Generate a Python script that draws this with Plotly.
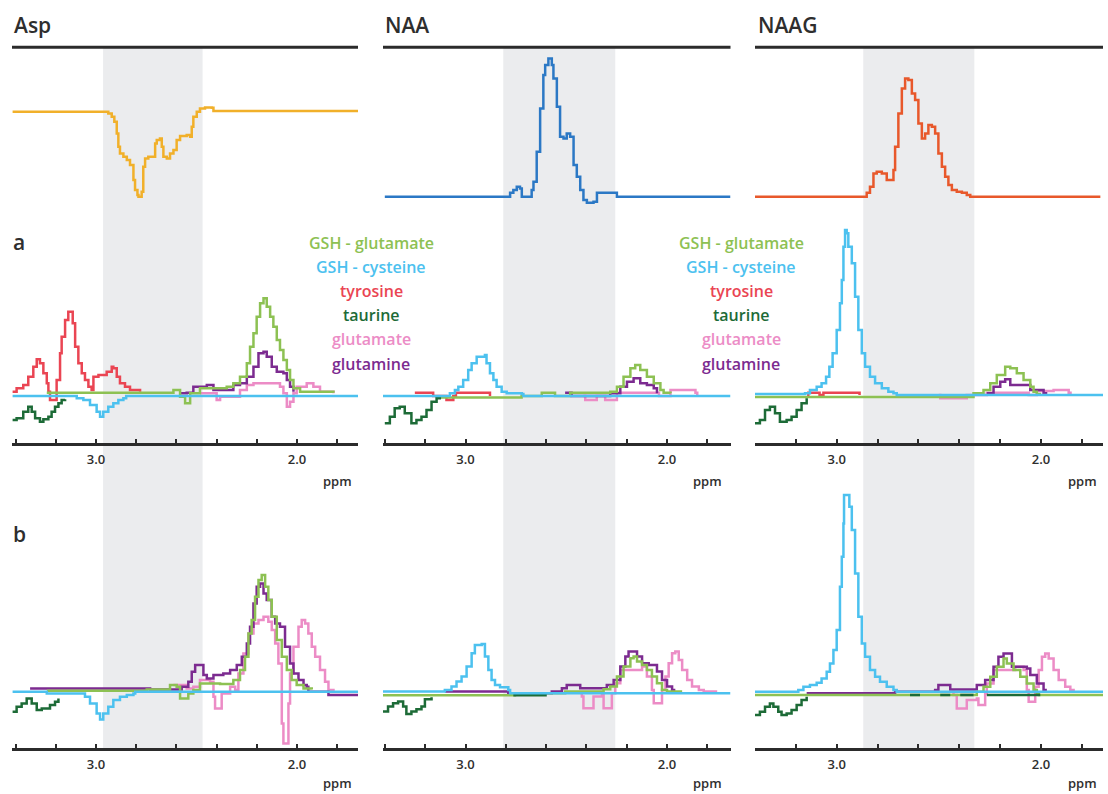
import plotly.graph_objects as go

# ---------------- data (ppm, intensity in px above baseline) ----------------
metabolites = ["Asp", "NAA", "NAAG"]
series_names = ["GSH - glutamate", "GSH - cysteine", "tyrosine", "taurine", "glutamate", "glutamine"]
tick_vals = [3.4, 3.2, 3.0, 2.8, 2.6, 2.4, 2.2, 2.0, 1.8]
tick_text = ["", "", "3.0", "", "", "", "", "2.0", ""]
shade_ranges = [(2.965, 2.47), (2.813, 2.257), (2.870, 2.326)]

# top row
asp_ppm = [3.415, 2.947, 2.939, 2.922, 2.909, 2.897, 2.889, 2.881, 2.864, 2.847, 2.831, 2.814, 2.806, 2.794, 2.789,
           2.773, 2.765, 2.756, 2.740, 2.715, 2.706, 2.698, 2.682, 2.673, 2.665, 2.648, 2.632, 2.615, 2.599, 2.582,
           2.549, 2.532, 2.524, 2.516, 2.499, 2.483, 2.458, 2.424, 2.416, 1.687]
asp_int = [0, 0, -1.7, -5, -10, -21.7, -35, -41.7, -45, -48.3, -53.3, -68.3, -78.3, -83.3, -85,
           -80, -55, -46.7, -45, -45, -31.7, -28.3, -26.7, -35, -45, -46.7, -41.7, -38.3, -28.3, -24.3,
           -23.3, -25, -15, -5, 0, 3.3, 4.3, 4, 0.7, 0]
naa_ppm = [3.401, 2.796, 2.779, 2.763, 2.746, 2.730, 2.721, 2.688, 2.672, 2.663, 2.647, 2.630, 2.614, 2.605, 2.589,
           2.572, 2.564, 2.547, 2.531, 2.514, 2.498, 2.481, 2.464, 2.448, 2.431, 2.415, 2.398, 2.365, 2.348, 2.257,
           2.249, 1.685]
naa_int = [0, 0, 4, 6.7, 10, 8.3, 0, 0, 6.7, 15, 45, 88.3, 121.7, 131.7, 138.3,
           131.7, 118.3, 90, 60, 58.3, 63.3, 60, 31.7, 20, 6.7, -3.3, -6, -5, 4, 4,
           0, 0]
naag_ppm = [3.400, 2.869, 2.853, 2.837, 2.820, 2.804, 2.779, 2.755, 2.730, 2.722, 2.714, 2.698, 2.681, 2.665, 2.649,
            2.632, 2.616, 2.600, 2.583, 2.567, 2.551, 2.534, 2.518, 2.502, 2.485, 2.469, 2.453, 2.436, 2.412, 2.387,
            2.363, 2.346, 1.709]
naag_int = [0, 0, 4, 10, 23.3, 25, 23.3, 16.7, 16.7, 26.7, 50, 83.3, 108.3, 118.3, 116.7,
            103.3, 96.7, 73.3, 58.3, 63.3, 71.7, 70, 63.3, 43.3, 30, 20, 11.7, 6.7, 5, 4,
            1.7, 0, 0]

# row a, column 1 (Asp)
a1_tyr_ppm = [3.415, 3.395, 3.362, 3.337, 3.312, 3.295, 3.279, 3.262, 3.245, 3.237, 3.229, 3.204, 3.196, 3.179, 3.171,
              3.154, 3.138, 3.126, 3.116, 3.104, 3.088, 3.071, 3.055, 3.038, 3.022, 3.013, 2.988, 2.964, 2.947, 2.922,
              2.914, 2.897, 2.881, 2.856, 2.831, 2.781]
a1_tyr_int = [4.3, 7.7, 11, 19.3, 29.3, 36.7, 32.7, 22.7, 12.7, 4.3, -4, -4, 16, 42.7, 59.3,
              76, 84.3, 84.3, 72.7, 49.3, 32.7, 22.7, 16, 9.3, 6, 19.3, 21, 21, 24.3, 29.3,
              27.7, 19.3, 12.7, 9.3, 6, 4.3]
a1_tau_ppm = [3.415, 3.395, 3.362, 3.337, 3.320, 3.303, 3.279, 3.262, 3.237, 3.221, 3.204, 3.187, 3.171, 3.154]
a1_tau_int = [-24, -22.3, -15.7, -10.7, -15.7, -22.3, -25.7, -23.3, -20.7, -15.7, -10.7, -7.3, -4, -3.3]
a1_cys_ppm = [3.415, 3.110, 3.096, 3.063, 3.030, 2.997, 2.980, 2.964, 2.939, 2.914, 2.889, 2.864, 2.850, 1.687]
a1_cys_int = [0, 0, -2.3, -4, -9, -15.7, -20.7, -15.7, -10.7, -7.3, -4, -2.3, 0, 0]
a1_glx_ppm = [3.245, 2.648, 2.615, 2.582, 2.557, 2.532, 2.483, 2.400, 2.350, 2.317, 2.284, 2.250, 2.234, 2.217,
              2.201, 2.184, 2.167, 2.151, 2.134, 2.118, 2.101, 2.085, 2.068, 2.051, 2.035, 2.018, 1.985, 1.819]
a1_glx_int = [3.3, 3.3, 6, -0.7, -7.3, 2.7, 7.7, 7.7, 9.3, 12.7, 19.3, 32.7, 49.3, 62.7,
              79.3, 92.7, 97.7, 89.3, 79.3, 69.3, 56, 46, 36, 26, 16, 7.7, 4.3, 3.3]
a1_gln_ppm = [2.582, 2.549, 2.516, 2.449, 2.416, 2.317, 2.284, 2.250, 2.217, 2.192, 2.167, 2.151, 2.126, 2.101,
              2.068, 2.051, 2.035, 2.018]
a1_gln_int = [2.7, 3.3, 9.3, 11, 6, 11, 12.7, 19.3, 29.3, 42.7, 44.3, 39.3, 29.3, 24.3,
              22.7, 16, 9.3, 4.3]
a1_glu_ppm = [2.483, 2.400, 2.383, 2.284, 2.250, 2.217, 2.118, 2.085, 2.068, 2.051, 2.035, 2.018, 2.002, 1.952,
              1.919, 1.886, 1.819]
a1_glu_int = [2.7, -4, -0.7, 6, 11, 12.7, 12.7, 9.3, 2.7, -10.7, -5.7, 2.7, 9.3, 12.7,
              9.3, 4.3, 2.7]

# row a, column 2 (NAA)
a2_cys_ppm = [3.410, 3.095, 3.078, 3.053, 3.036, 3.012, 2.987, 2.970, 2.945, 2.904, 2.896, 2.879, 2.862, 2.846,
              2.821, 2.796, 2.721, 2.713, 1.685]
a2_cys_int = [0, 0, 2.7, 6, 9.3, 16, 26, 32.7, 39.3, 41, 32.7, 22.7, 16, 9.3,
              4.3, 2.7, 2, 0, 0]
a2_tau_ppm = [3.401, 3.376, 3.352, 3.327, 3.302, 3.269, 3.244, 3.219, 3.194, 3.169, 3.144, 3.128]
a2_tau_int = [-27.3, -20.7, -12.3, -10.7, -17.3, -27.3, -24, -20.7, -14, -5.7, -2.3, -0.7]
a2_tyr_ppm = [3.252, 3.169, 3.161, 3.098, 3.095, 3.070, 3.061, 3.048, 2.887, 2.879]
a2_tyr_int = [3.3, 3.3, 0, 0, -4, -4, 0, 3.3, 3.3, 0]
a2_glx_ppm = [3.144, 2.730, 2.722, 2.630, 2.622, 2.564, 2.556, 2.489, 2.481, 2.282, 2.249, 2.216, 2.182, 2.158,
              2.133, 2.100, 2.066, 2.033, 2.017, 1.983]
a2_glx_int = [-1.5, -1.5, 0, 0, 3.3, 3.3, 0, 0, 3.3, 4.3, 9.3, 19.3, 27.7, 31,
              26, 19.3, 12.7, 6, 3.3, 2.7]
a2_gln_ppm = [2.506, 2.481, 2.474, 2.290, 2.282, 2.232, 2.199, 2.166, 2.133, 2.100, 2.066, 2.050]
a2_gln_int = [3.3, 3.3, 0, 0, 2.7, 9.3, 14.3, 17.7, 12.7, 11, 7.7, 2.7]
a2_glu_ppm = [2.415, 2.406, 2.357, 2.349, 2.315, 2.307, 2.257, 2.249, 2.050, 2.040, 1.990, 1.983, 1.917, 1.859, 1.850]
a2_glu_int = [0, -4, -4, 0, 0, -4, -4, 3.3, 3.3, 0, 0, 6, 6, 3.3, 0]

# row a, column 3 (NAAG)
a3_cys_ppm = [3.400, 3.155, 3.131, 3.098, 3.074, 3.052, 3.036, 3.020, 3.000, 2.984, 2.975, 2.967, 2.959, 2.951,
              2.943, 2.926, 2.910, 2.894, 2.877, 2.861, 2.837, 2.812, 2.779, 2.747, 2.722, 2.706, 1.693]
a3_cys_int = [1, 1.7, 5, 8.3, 11.7, 18.3, 28.3, 41.7, 65, 91.7, 115, 148.3, 165, 161.7,
              148.3, 131.7, 98.3, 65, 41.7, 28.3, 18.3, 11.7, 6.7, 3.3, 1.7, 0, 0]
a3_tau_ppm = [3.400, 3.376, 3.351, 3.327, 3.302, 3.278, 3.245, 3.221, 3.196, 3.172, 3.147]
a3_tau_int = [-28.3, -25, -15, -11.7, -18.3, -26.7, -25, -21.7, -15, -8.3, -3.3]
a3_tyr_ppm = [3.145, 3.139, 3.090, 3.084, 3.071, 3.065, 2.894, 2.888]
a3_tyr_int = [0, 2.3, 2.3, 0, 0, 2.3, 2.3, 0]
a3_glx_ppm = [3.400, 2.338, 2.330, 2.281, 2.248, 2.216, 2.175, 2.150, 2.118, 2.085, 2.052, 2.036, 2.020, 2.005]
a3_glx_int = [-2, -2, 1.7, 5, 11.7, 20, 28.3, 26.7, 21.7, 15, 8.3, 3.3, 1, 0]
a3_gln_ppm = [2.265, 2.232, 2.199, 2.175, 2.150, 2.085, 2.052, 2.020, 1.987, 1.975]
a3_gln_int = [1.7, 8.3, 13.3, 15.7, 10, 10, 5, 5, 1.7, 0]
a3_glu_ppm = [2.500, 2.493, 2.370, 2.363, 2.265, 2.069, 2.060, 2.030, 2.020, 1.938, 1.864, 1.855]
a3_glu_int = [0, -3.3, -3.3, 0, 2.3, 2.3, 0, 0, 4, 5, 2.3, 0]

# row b, column 1 (Asp)
b1_cys_ppm = [3.415, 3.262, 3.245, 3.080, 3.055, 3.030, 2.997, 2.980, 2.964, 2.939, 2.914, 2.881, 2.847, 2.814,
              2.805, 1.695]
b1_cys_int = [0, 0, -1.7, -1.7, -5, -11.7, -21.7, -27.7, -21.7, -15, -8.3, -5, -3.3, -1.7, 0, 0]
b1_tau_ppm = [3.415, 3.395, 3.370, 3.345, 3.320, 3.295, 3.270, 3.245, 3.229, 3.204, 3.187]
b1_tau_int = [-20, -15, -11.7, -6.7, -11.7, -18.3, -16.7, -16.7, -13.3, -10, -6.7]
b1_gln_ppm = [3.328, 2.748, 2.731, 2.590, 2.574, 2.541, 2.524, 2.507, 2.483, 2.466, 2.449, 2.416, 2.367, 2.333,
              2.300, 2.275, 2.250, 2.234, 2.217, 2.201, 2.184, 2.167, 2.151, 2.126, 2.109, 2.085, 2.060, 2.035,
              2.018, 1.993, 1.968, 1.952, 1.944, 1.852, 1.844, 1.695]
b1_gln_int = [3.3, 3.3, 2.3, 2.3, 5, 10, 20, 26.7, 26.7, 16.7, 13.3, 16.7, 18.3, 21.7,
              26.7, 35, 48.3, 65, 88.3, 105, 108.3, 98.3, 91.7, 75, 68.3, 65, 45, 28.3,
              18.3, 11.7, 6.7, 5, 0, 0, -3.3, -3.3]
b1_glx_ppm = [3.245, 2.814, 2.748, 2.632, 2.599, 2.582, 2.557, 2.541, 2.516, 2.483, 2.449, 2.383, 2.317, 2.284,
              2.259, 2.242, 2.226, 2.209, 2.192, 2.176, 2.159, 2.143, 2.126, 2.101, 2.076, 2.051, 2.027, 2.002,
              1.968, 1.927]
b1_glx_int = [1, 1, 2.3, 6.7, 5, -6.7, -6.7, -1.7, 1.7, 8.3, 8.3, 7.7, 11.7, 21.7,
              35, 58.3, 71.7, 95, 111.7, 116.7, 105, 91.7, 75, 51.7, 35, 21.7, 11.7, 6.7,
              3.3, 2.3]
b1_glu_ppm = [2.615, 2.549, 2.516, 2.483, 2.433, 2.416, 2.408, 2.383, 2.375, 2.333, 2.308, 2.292, 2.267, 2.242,
              2.217, 2.192, 2.167, 2.143, 2.126, 2.109, 2.093, 2.076, 2.068, 2.051, 2.043, 2.035, 2.018, 1.993,
              1.977, 1.960, 1.944, 1.927, 1.910, 1.886, 1.861, 1.844, 1.819]
b1_glu_int = [6.7, 3.3, 5, 11.7, 10, -5, -16.7, -16.7, -1.7, 5, 1.7, 18.3, 38.3, 58.3,
              68.3, 71.7, 75, 70, 61.7, 48.3, 28.3, -31.7, -51.7, -51.7, -11.7, 18.3, 45, 65,
              71.7, 68.3, 58.3, 45, 35, 21.7, 10, 1.7, 0]

# row b, column 2 (NAA)
b2_cys_ppm = [3.418, 3.111, 3.103, 3.070, 3.045, 3.020, 2.995, 2.970, 2.954, 2.920, 2.904, 2.887, 2.871, 2.854,
              2.829, 2.788, 2.779, 1.685]
b2_cys_int = [1.7, 1.7, 3.3, 6.7, 11.7, 16.7, 26.7, 40, 48.3, 49.3, 36.7, 23.3, 13.3, 8.3,
              6, 3.3, 0, 0]
b2_tau_ppm = [3.413, 3.385, 3.360, 3.335, 3.310, 3.294, 3.269, 3.244, 3.219, 3.202, 3.169, None, 2.763, 2.597]
b2_tau_int = [-18.3, -13.3, -10, -8.3, -13.3, -20.7, -18.3, -16, -13.3, -6, -4, None, -2, -2]
b2_glx_ppm = [3.413, 2.763, 2.755, 2.514, 2.506, 2.315, 2.282, 2.249, 2.216, 2.182, 2.166, 2.149, 2.124, 2.100,
              2.075, 2.050, 2.025, 2.000, 1.925]
b2_glx_int = [-2, -2, 0, 0, 1.7, 4, 6.7, 16.7, 26.7, 35, 36.7, 31.7, 28.3, 23.3,
              16.7, 10, 3.3, 1.7, 1.7]
b2_gln_ppm = [3.103, 2.796, 2.788, 2.580, 2.572, 2.522, 2.498, 2.448, 2.431, 2.332, 2.299, 2.265, 2.232, 2.207,
              2.191, 2.158, 2.149, 2.124, 2.091, 2.066, 2.050, 2.025, 2.000, 1.975, 1.965]
b2_gln_int = [1.7, 1.7, 0, 0, 1.7, 5, 8.3, 8.3, 5, 5, 8.3, 13.3, 26.7, 36.7,
              41.7, 41.7, 36.7, 30, 28.3, 28.3, 21.7, 13.3, 6.7, 3.3, 0]
b2_glu_ppm = [2.430, 2.423, 2.415, 2.373, 2.365, 2.323, 2.315, 2.282, 2.274, 2.257, 2.232, 2.149, 2.124, 2.100,
              2.075, 2.066, 2.041, 2.025, 2.008, 1.992, 1.975, 1.959, 1.942, 1.925, 1.900, 1.876, 1.842, 1.818,
              1.751]
b2_glu_int = [0, -3.3, -15, -15, -3.3, -1.7, -15, -15, 0, 10, 23.3, 23.3, 26.7, 16.7,
              3.3, -10, -10, 3.3, 16.7, 30, 40, 41.7, 33.3, 23.3, 13.3, 6.7, 3.3, 1.7,
              1.7]

# row b, column 3 (NAAG)
b3_cys_ppm = [3.400, 3.188, 3.163, 3.131, 3.098, 3.074, 3.049, 3.033, 3.016, 3.000, 2.984, 2.975, 2.967, 2.964,
              2.948, 2.938, 2.926, 2.910, 2.894, 2.877, 2.861, 2.837, 2.812, 2.788, 2.755, 2.722, 2.706, 1.693]
b3_cys_int = [0, 1.7, 5, 6.7, 9, 13.3, 20, 28.3, 41.7, 61.7, 105, 135, 168.3, 196.7,
              196.7, 185, 161.7, 118.3, 75, 48.3, 35, 21.7, 15, 10, 5, 1.7, 0, 0]
b3_tau_ppm = [3.400, 3.376, 3.351, 3.327, 3.310, 3.286, 3.270, 3.245, 3.221, 3.196, 3.172, 3.147,
              None, 2.641, 2.592, None, 2.493, 2.444, None, 2.395, 2.330, None, 2.265, 2.003]
b3_tau_int = [-23.3, -20, -15, -11.7, -15, -20, -23.3, -21.7, -18.3, -13.3, -8.3, -5,
              None, -3.3, -3.3, None, -3.3, -3.3, None, -3.3, -3.3, None, -3.3, -3.3]
b3_glx_ppm = [3.400, 2.322, 2.314, 2.281, 2.248, 2.216, 2.183, 2.167, 2.134, 2.101, 2.069, 2.036, 2.020, 2.010, 1.693]
b3_glx_int = [-3.3, -3.3, 0, 5, 15, 25, 33.3, 28.3, 21.7, 15, 8.3, 1.7, -1.7, -3.3, -3.3]
b3_gln_ppm = [3.147, 2.722, 2.714, 2.526, 2.518, 2.502, 2.453, 2.444, 2.330, 2.314, 2.273, 2.232, 2.208, 2.183,
              2.150, 2.142, 2.118, 2.069, 2.052, 2.020, 1.987, 1.977]
b3_gln_int = [-1.5, -1.5, 0, 0, 1.7, 6.7, 6.7, 2.3, 2.3, 6.7, 11.7, 25, 35, 38.3,
              38.3, 25, 25, 23.3, 16.7, 8.3, 1.7, 0]
b3_glu_ppm = [2.436, 2.428, 2.412, 2.371, 2.363, 2.314, 2.306, 2.281, 2.273, 2.265, 2.232, 2.150, 2.126, 2.085,
              2.069, 2.060, 2.036, 2.028, 2.011, 1.995, 1.979, 1.962, 1.938, 1.913, 1.881, 1.856, 1.840]
b3_glu_int = [0, -3.3, -16.7, -16.7, -8.3, -6.7, -13.3, -13.3, -1.7, 8.3, 21.7, 21.7, 25, 21.7,
              1.7, -10, -10, 5, 21.7, 35, 38.3, 33.3, 21.7, 11.7, 5, 1.7, 0]

# ---------------- styling / layout constants ----------------
W, H = 1108, 794
C_GLX, C_CYS, C_TYR, C_TAU, C_GLU, C_GLN = "#8dc153", "#4cc1ef", "#ea4553", "#1d6b37", "#ec8cc6", "#7c2b90"
C_TOP = ["#f1b02a", "#2b78c5", "#e8582b"]
TXT = "#2e2e2e"
FONT = "Open Sans"
LW = 2.5

col_px = [(12, 358), (383, 730.5), (755, 1103)]
col_rng = [(3.418, 1.697), (3.410, 1.685), (3.400, 1.696)]
row_px = [(50, 205), (222, 443), (480, 748)]
base_px = [[111.7, 196.7, 196.7], [396, 396, 395], [691.7, 693.3, 691.7]]

fig = go.Figure()


def py(p):
    return 1 - p / H


def px_(p):
    return p / W


def ax_id(r, c):
    return r * 3 + c + 1


def add(r, c, xs, ys, color):
    k = ax_id(r, c)
    fig.add_trace(go.Scatter(x=xs, y=ys, mode="lines", line=dict(color=color, width=LW, shape="hv"),
                             xaxis="x" if k == 1 else f"x{k}", yaxis="y" if k == 1 else f"y{k}",
                             hoverinfo="skip", connectgaps=False, showlegend=False))


# top row
add(0, 0, asp_ppm, asp_int, C_TOP[0])
add(0, 1, naa_ppm, naa_int, C_TOP[1])
add(0, 2, naag_ppm, naag_int, C_TOP[2])

panels = {
    (1, 0): dict(glu=(a1_glu_ppm, a1_glu_int), gln=(a1_gln_ppm, a1_gln_int), tyr=(a1_tyr_ppm, a1_tyr_int),
                 glx=(a1_glx_ppm, a1_glx_int), tau=(a1_tau_ppm, a1_tau_int), cys=(a1_cys_ppm, a1_cys_int)),
    (1, 1): dict(glu=(a2_glu_ppm, a2_glu_int), gln=(a2_gln_ppm, a2_gln_int), tyr=(a2_tyr_ppm, a2_tyr_int),
                 glx=(a2_glx_ppm, a2_glx_int), tau=(a2_tau_ppm, a2_tau_int), cys=(a2_cys_ppm, a2_cys_int)),
    (1, 2): dict(glu=(a3_glu_ppm, a3_glu_int), gln=(a3_gln_ppm, a3_gln_int), tyr=(a3_tyr_ppm, a3_tyr_int),
                 glx=(a3_glx_ppm, a3_glx_int), tau=(a3_tau_ppm, a3_tau_int), cys=(a3_cys_ppm, a3_cys_int)),
    (2, 0): dict(glu=(b1_glu_ppm, b1_glu_int), gln=(b1_gln_ppm, b1_gln_int),
                 glx=(b1_glx_ppm, b1_glx_int), tau=(b1_tau_ppm, b1_tau_int), cys=(b1_cys_ppm, b1_cys_int)),
    (2, 1): dict(glu=(b2_glu_ppm, b2_glu_int), gln=(b2_gln_ppm, b2_gln_int),
                 glx=(b2_glx_ppm, b2_glx_int), tau=(b2_tau_ppm, b2_tau_int), cys=(b2_cys_ppm, b2_cys_int)),
    (2, 2): dict(glu=(b3_glu_ppm, b3_glu_int), gln=(b3_gln_ppm, b3_gln_int),
                 glx=(b3_glx_ppm, b3_glx_int), tau=(b3_tau_ppm, b3_tau_int), cys=(b3_cys_ppm, b3_cys_int)),
}
colors = dict(glu=C_GLU, gln=C_GLN, tyr=C_TYR, glx=C_GLX, tau=C_TAU, cys=C_CYS)
order = ["glu", "gln", "tyr", "glx", "tau", "cys"]
for (r, c), d in panels.items():
    for key in order:
        if key in d:
            add(r, c, d[key][0], d[key][1], colors[key])

layout = dict(width=W, height=H, margin=dict(l=0, r=0, t=0, b=0),
              paper_bgcolor="white", plot_bgcolor="rgba(0,0,0,0)", showlegend=False,
              font=dict(family=FONT, color=TXT))
for r in range(3):
    for c in range(3):
        k = ax_id(r, c)
        xn = "xaxis" if k == 1 else f"xaxis{k}"
        yn = "yaxis" if k == 1 else f"yaxis{k}"
        top, bot = row_px[r]
        base = base_px[r][c]
        x0, x1 = col_px[c]
        xa = dict(domain=[px_(x0), px_(x1)], range=list(col_rng[c]), anchor="y" if k == 1 else f"y{k}",
                  showgrid=False, zeroline=False, fixedrange=True)
        if r == 0:
            xa.update(visible=False)
        else:
            xa.update(showline=True, linecolor="#2b2b2b", linewidth=2.5, ticks="inside", ticklen=4,
                      tickwidth=1.5, tickcolor="#2b2b2b", tickmode="array", tickvals=tick_vals,
                      ticktext=tick_text, tickfont=dict(family=FONT, size=13, color=TXT, weight=600),
                      ticklabelstandoff=3)
        layout[xn] = xa
        layout[yn] = dict(domain=[py(bot), py(top)], range=[-(bot - base), base - top], visible=False,
                          fixedrange=True, anchor="x" if k == 1 else f"x{k}")

shapes = []
for c in range(3):
    shapes.append(dict(type="rect", xref="x" if c == 0 else f"x{c + 1}", yref="paper",
                       x0=shade_ranges[c][0], x1=shade_ranges[c][1], y0=py(748), y1=py(48),
                       fillcolor="#ebecee", line=dict(width=0), layer="below"))
    shapes.append(dict(type="line", xref="paper", yref="paper", x0=px_(col_px[c][0]), x1=px_(col_px[c][1]),
                       y0=py(47.3), y1=py(47.3), line=dict(color="#2b2b2b", width=3)))
layout["shapes"] = shapes

ann = []
title_x = [12, 383, 756]
for c in range(3):
    ann.append(dict(text=metabolites[c], x=px_(title_x[c]), y=py(25), xref="paper", yref="paper",
                    xanchor="left", yanchor="middle", showarrow=False,
                    font=dict(family=FONT, size=21, color=TXT, weight=600)))
ann.append(dict(text="a", x=px_(11), y=py(242), xref="paper", yref="paper", xanchor="left", yanchor="middle",
                showarrow=False, font=dict(family=FONT, size=21, color=TXT, weight=600)))
ann.append(dict(text="b", x=px_(11), y=py(534), xref="paper", yref="paper", xanchor="left", yanchor="middle",
                showarrow=False, font=dict(family=FONT, size=21, color=TXT, weight=600)))
leg_colors = [C_GLX, C_CYS, C_TYR, C_TAU, C_GLU, C_GLN]
leg_y = [243, 267, 291, 315, 339, 364]
for cx in (371, 741):
    for name, colr, yy in zip(series_names, leg_colors, leg_y):
        ann.append(dict(text=name, x=px_(cx), y=py(yy), xref="paper", yref="paper", xanchor="center",
                        yanchor="middle", showarrow=False, font=dict(family=FONT, size=16, color=colr, weight=600)))
ppm_x = [337, 707, 1082]
for yy in (481, 783):
    for c in range(3):
        ann.append(dict(text="ppm", x=px_(ppm_x[c]), y=py(yy), xref="paper", yref="paper", xanchor="center",
                        yanchor="middle", showarrow=False, font=dict(family=FONT, size=13, color=TXT, weight=600)))
layout["annotations"] = ann

fig.update_layout(**layout)
fig.write_html("out.html", config={"displayModeBar": False},
               post_script="document.body.style.margin='0';")
